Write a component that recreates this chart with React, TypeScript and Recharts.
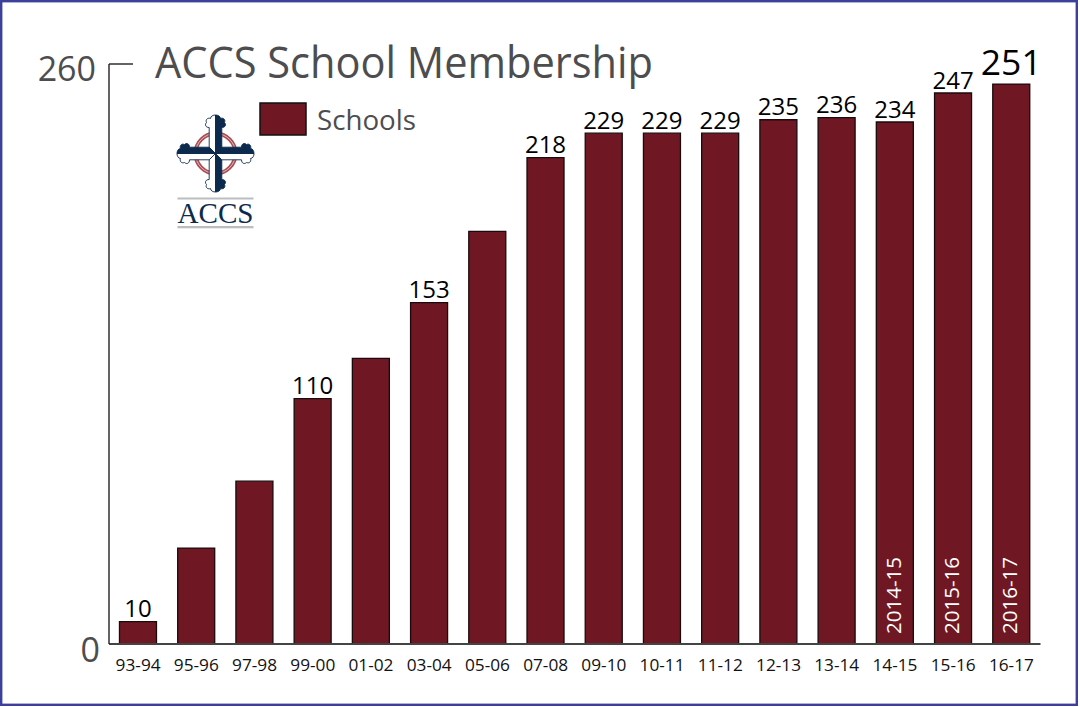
import React from 'react';
import { BarChart, Bar, XAxis, YAxis, Legend, LabelList, Customized } from 'recharts';

const categories = ['93-94','95-96','97-98','99-00','01-02','03-04','05-06','07-08','09-10','10-11','11-12','12-13','13-14','14-15','15-16','16-17'];
const schools = [10,43,73,110,128,153,185,218,229,229,229,235,236,234,247,251];
const labelled = ['93-94','99-00','03-04','07-08','09-10','10-11','11-12','12-13','13-14','14-15','15-16','16-17'];
const insideLabels: Record<string, string> = { '14-15': '2014-15', '15-16': '2015-16', '16-17': '2016-17' };
const yTicks = [0, 260];
const data = categories.map((c, i) => ({ year: c, Schools: schools[i] }));

const FONT = '"Open Sans", "Noto Sans", sans-serif';
const MAROON = '#6f1824';
const GREY = '#4d4d4f';

const YTick = (p: any) => {
  const v = p.payload.value;
  const top = v === 260;
  return (
    <g>
      {top && <line x1={109} x2={133} y1={p.y} y2={p.y} stroke="#222" strokeWidth={1.4} />}
      <text x={top ? 96 : 100} y={top ? p.y + 17 : p.y + 18} textAnchor="end" fontFamily={FONT} fontSize={34} fill={GREY}>{v}</text>
    </g>
  );
};

const XTick = (p: any) => (
  <text x={p.x} y={p.y + 19} textAnchor="middle" fontFamily={FONT} fontSize={16.5} fill="#111" textLength={45} lengthAdjust="spacingAndGlyphs">{p.payload.value}</text>
);

const TopLabel = (p: any) => {
  if (!labelled.includes(p.value.year)) return null;
  const last = p.value.year === '16-17';
  return (
    <text x={p.x + p.width / 2} y={p.y - (last ? 9 : 4.5)} textAnchor="middle" fontFamily={FONT} fontSize={last ? 35.5 : 24} fontWeight={last ? 500 : 400} fill="#000">
      {p.value.Schools}
    </text>
  );
};

const InsideLabel = (p: any) => {
  const t = insideLabels[p.value.year];
  if (!t) return null;
  const cx = p.x + p.width / 2;
  const bottom = p.y + p.height - 10;
  return (
    <text transform={`translate(${cx + 6},${bottom}) rotate(-90)`} textAnchor="start" fontFamily={FONT} fontSize={20.5} fill="#fff">{t}</text>
  );
};

const LegendBox = (p: any) => {
  const item = p.payload?.[0];
  return (
    <svg width={170} height={40} style={{ display: 'block', overflow: 'visible' }}>
      <rect x={1} y={1} width={46} height={32} fill={MAROON} stroke="#111" strokeWidth={1.5} />
      <text x={58} y={27.5} fontFamily={FONT} fontSize={28} fill={GREY} textLength={99} lengthAdjust="spacingAndGlyphs">{item?.value}</text>
    </svg>
  );
};

const armHalf = 'M0,0 L-6.3,-6.3 L-6.3,-26 C-10,-26 -11,-29 -9,-31 C-10.5,-34.5 -7,-36 -5,-35 C-5,-37.5 -2,-38.5 0,-38.5 L0,0 Z';
const armNavy = 'M0,0 L6.3,-6.3 L6.3,-26 C10,-26 11,-29 9,-31 C10.5,-34.5 7,-36 5,-35 C5,-37.5 2,-38.5 0,-38.5 Z';
const armTransforms = ['', 'scale(1,-1)', 'rotate(-90)', 'rotate(-90) scale(1,-1)'];

const Logo = () => (
  <g transform="translate(215.5,153.5)">
    <circle r={20} fill="none" stroke="#ab4e53" strokeWidth={4} />
    <circle r={20} fill="none" stroke="#fff" strokeWidth={0.6} />
    {armTransforms.map((t) => (
      <g key={t} transform={t}>
        <path d={armHalf} fill="#fff" stroke="#0c2a4d" strokeWidth={0.9} />
        <path d={armNavy} fill="#0c2a4d" stroke="#0c2a4d" strokeWidth={0.9} />
      </g>
    ))}
    <rect x={-38} y={44} width={76} height={2} fill="#bbbdbf" />
    <text x={0} y={69} textAnchor="middle" fontFamily='"Liberation Serif", serif' fontSize={30} fill="#0c2a4d" textLength={76} lengthAdjust="spacingAndGlyphs">ACCS</text>
    <rect x={-38} y={72.5} width={76} height={2.3} fill="#bbbdbf" />
  </g>
);

export default function App() {
  return (
    <div style={{ position: 'absolute', left: 0, top: 0, width: 1080, height: 707, background: '#fff' }}>
      <svg width={1080} height={707} style={{ position: 'absolute', left: 0, top: 0 }}>
        <rect x={1.2} y={1.2} width={1075.6} height={703.6} fill="none" stroke="#3c409c" strokeWidth={2.4} />
      </svg>
      <BarChart
        width={1080}
        height={707}
        data={data}
        margin={{ top: 64, right: 39.5, bottom: 13, left: 9 }}
        barCategoryGap="18%"
        style={{ position: 'absolute', left: 0, top: 0 }}
      >
        <XAxis dataKey="year" interval={0} tick={XTick} tickLine={false} axisLine={{ stroke: '#444', strokeWidth: 2 }} height={50} />
        <YAxis domain={[0, 260]} ticks={yTicks} width={100} tick={YTick} tickLine={false} axisLine={{ stroke: '#222', strokeWidth: 1.4 }} />
        <Legend layout="horizontal" align="center" verticalAlign="middle" content={LegendBox} wrapperStyle={{ left: 259, top: 102, width: 170, height: 40, bottom: 'auto' }} />
        <Bar dataKey="Schools" fill={MAROON} stroke="#1a0a0c" strokeWidth={1.3} isAnimationActive={false}>
          <LabelList dataKey={(d: any) => d} content={TopLabel} />
          <LabelList dataKey={(d: any) => d} content={InsideLabel} />
        </Bar>
        <Customized component={Logo} />
        <text x={155} y={78} fontFamily={FONT} fontSize={43} fill={GREY} textLength={498} lengthAdjust="spacingAndGlyphs">ACCS School Membership</text>
      </BarChart>
    </div>
  );
}
